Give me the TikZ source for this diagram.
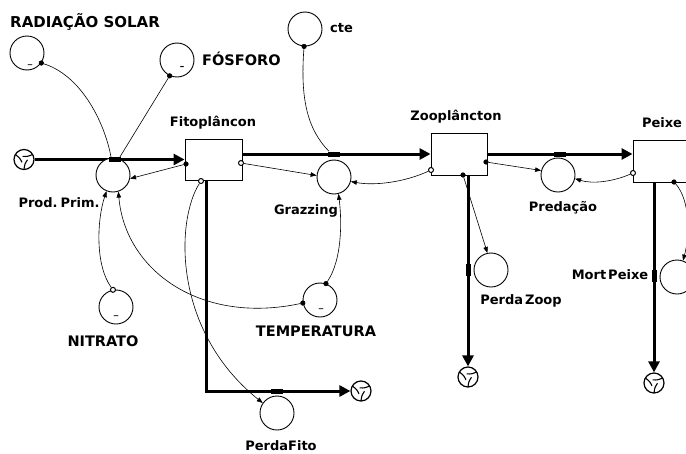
\documentclass[tikz,border=0pt]{standalone}
\usepackage{fontspec}
\setmainfont{DejaVu Sans}
\usetikzlibrary{arrows.meta}
\begin{document}
\begin{tikzpicture}[x=1pt,y=-1pt,
  aux/.style={circle,draw,line width=0.9pt,minimum size=34pt,inner sep=0pt,fill=white},
  stock/.style={rectangle,draw,line width=0.9pt,inner sep=0pt,fill=white},
  flowline/.style={line width=3pt,-{Triangle[length=11pt,width=11pt]}},
  plainflow/.style={line width=3pt},
  link/.style={line width=0.6pt,-{Triangle[length=6pt,width=4.5pt]}},
  nolink/.style={line width=0.6pt},
  dotf/.style={circle,draw,fill=black,line width=0.6pt,minimum size=4.5pt,inner sep=0pt},
  doth/.style={circle,draw,fill=white,line width=1pt,minimum size=5pt,inner sep=0pt},
  valveh/.style={rectangle,fill=black,minimum width=12pt,minimum height=5pt,inner sep=0pt},
  valvev/.style={rectangle,fill=black,minimum width=5pt,minimum height=12pt,inner sep=0pt},
  sinksrc/.style={circle,draw,line width=1.2pt,fill=white,minimum size=20pt,inner sep=0pt},
  capl/.style={font=\fontsize{14.5}{16}\selectfont\bfseries,inner sep=0pt},
  lowl/.style={font=\fontsize{13}{15}\selectfont\bfseries,inner sep=0pt},
  minusmark/.style={font=\fontsize{9}{10}\selectfont\bfseries,inner sep=0pt}
]
\useasboundingbox (0,0) rectangle (686,453);
\clip (0,0) rectangle (686,453);
\newcommand\swirl[1]{%
  \foreach \a in {30,150,270}{\draw[line width=1.1pt] ([shift={(\a:10pt)}]#1.center) .. controls ([shift={(\a+10:4.5pt)}]#1.center) .. ([shift={(\a+85:3.5pt)}]#1.center);}}

% stocks
\node[stock,minimum width=57pt,minimum height=41pt] (fito) at (213.5,159.5) {};
\node[stock,minimum width=56pt,minimum height=42pt] (zoo) at (459,154) {};
\node[stock,minimum width=67pt,minimum height=42pt] (peixe) at (666.5,161) {};

% clouds
\node[sinksrc] (src) at (24,159.5) {};
\node[sinksrc] (sink1) at (361,391) {};
\node[sinksrc] (sink2) at (468,377) {};
\node[sinksrc] (sink3) at (654,383) {};
\swirl{src}\swirl{sink1}\swirl{sink2}\swirl{sink3}

% flows
\coordinate (fcorner) at (206,391);
\draw[flowline] (src.east) -- (fito.west);
\draw[flowline] (fito.east |- zoo.west) -- (zoo.west);
\draw[flowline] (zoo.east) -- (peixe.west |- zoo.east);
\draw[plainflow] (fito.south -| fcorner) -- (fcorner);
\draw[flowline] ([xshift=-1.5pt]fcorner) -- (sink1.west);
\draw[flowline] (zoo.south -| sink2) -- (sink2.north);
\draw[flowline] (peixe.south -| sink3) -- (sink3.north);

% auxiliaries / rates
\node[aux] (rad) at (27,53) {};
\node[aux] (fos) at (177,60) {};
\node[aux] (cte) at (305,29) {};
\node[aux] (prod) at (113,175) {};
\node[aux] (graz) at (334,177) {};
\node[aux] (pred) at (558,175) {};
\node[aux] (nit) at (116,307) {};
\node[aux] (temp) at (320,300) {};
\node[aux] (pfito) at (277,413) {};
\node[aux] (pzoop) at (491,270) {};
\node[aux] (mort) at (677,277) {};

% valves
\node[valveh] (v1) at (115,159.5) {};
\node[valveh] (v2) at (334,154) {};
\node[valveh] (v3) at (560,154) {};
\node[valveh] (v4) at (277,391) {};
\node[valvev] (v5) at (468,270) {};
\node[valvev] (v6) at (654,276) {};

% dots
\node[dotf] (drad) at (rad.-35) {};
\node[dotf] (dfos) at (fos.-115) {};
\node[dotf] (dcte) at (cte.-93) {};
\node[doth] (dnit) at (nit.100) {};
\node[dotf] (dtl) at (temp.190) {};
\node[dotf] (dtt) at (temp.70) {};
\node[dotf] (fL) at (186,164) {};
\node[doth] (fR) at (241,163) {};
\node[doth] (fB) at (201,181) {};
\node[doth] (zL) at (431,170) {};
\node[dotf] (zR) at (486,162) {};
\node[dotf] (zB) at (463,175) {};
\node[doth] (pL) at (633,173) {};
\node[dotf] (pB) at (674,182) {};

% links
\draw[nolink] (drad) .. controls (80,75) and (104,120) .. ([xshift=-4pt]v1.north);
\draw[nolink] (dfos) -- ([xshift=5pt]v1.north);
\draw[nolink] (dcte) .. controls (300,100) and (308,130) .. ([xshift=-5pt]v2.north);
\draw[link] (fL) -- (prod.-12);
\draw[link] (fR) -- (graz.175);
\draw[link] (zL) .. controls (405,182) and (375,186) .. (graz.-15);
\draw[link] (zR) -- (pred.165);
\draw[link] (pL) .. controls (612,182) and (592,184) .. (pred.-12);
\draw[link] (fB) .. controls (176,220) and (172,330) .. (pfito.145);
\draw[link] (zB) -- (pzoop.102);
\draw[link] (pB) .. controls (690,200) and (690,235) .. (mort.70);
\draw[link] (dnit) .. controls (95,265) and (97,220) .. (prod.-112);
\draw[link] (dtl) .. controls (200,325) and (125,270) .. (prod.-72);
\draw[link] (dtt) .. controls (342,260) and (342,222) .. (graz.-75);

% minus marks
\node[minusmark] (mrad) at (30,65) {\_};
\node[minusmark] (mfos) at (182,68) {–};
\node[minusmark] (mnit) at (116,316) {\_};
\node[minusmark] (mtemp) at (321,309) {\_};

% labels
\node[font=\fontsize{15}{16}\selectfont\bfseries,inner sep=0pt,anchor=west] (lrad) at (10,22) {RADIAÇÃO SOLAR};
\node[capl,anchor=west] (lfos) at (202,59) {FÓSFORO};
\node[lowl,anchor=west] (lcte) at (330,28) {cte};
\node[lowl] (lfito) at (213,123) {Fitoplâncon};
\node[lowl] (lprod) at (59,203) {Prod.\hspace{3pt}Prim.};
\node[lowl] (lgraz) at (306,211) {Grazzing};
\node[lowl] (lzoo) at (456,117) {Zooplâncton};
\node[lowl] (lpred) at (563,208) {Predação};
\node[lowl] (lpeixe) at (662,123) {Peixe};
\node[capl] (lnit) at (103,341) {NITRATO};
\node[capl] (ltemp) at (316,331) {TEMPERATURA};
\node[lowl] (lpf) at (281,446) {PerdaFito};
\node[lowl] (lpz) at (521,301) {Perda\hspace{2pt}Zoop};
\node[lowl] (lmort) at (610,275) {Mort\hspace{2pt}Peixe};
\end{tikzpicture}
\end{document}
